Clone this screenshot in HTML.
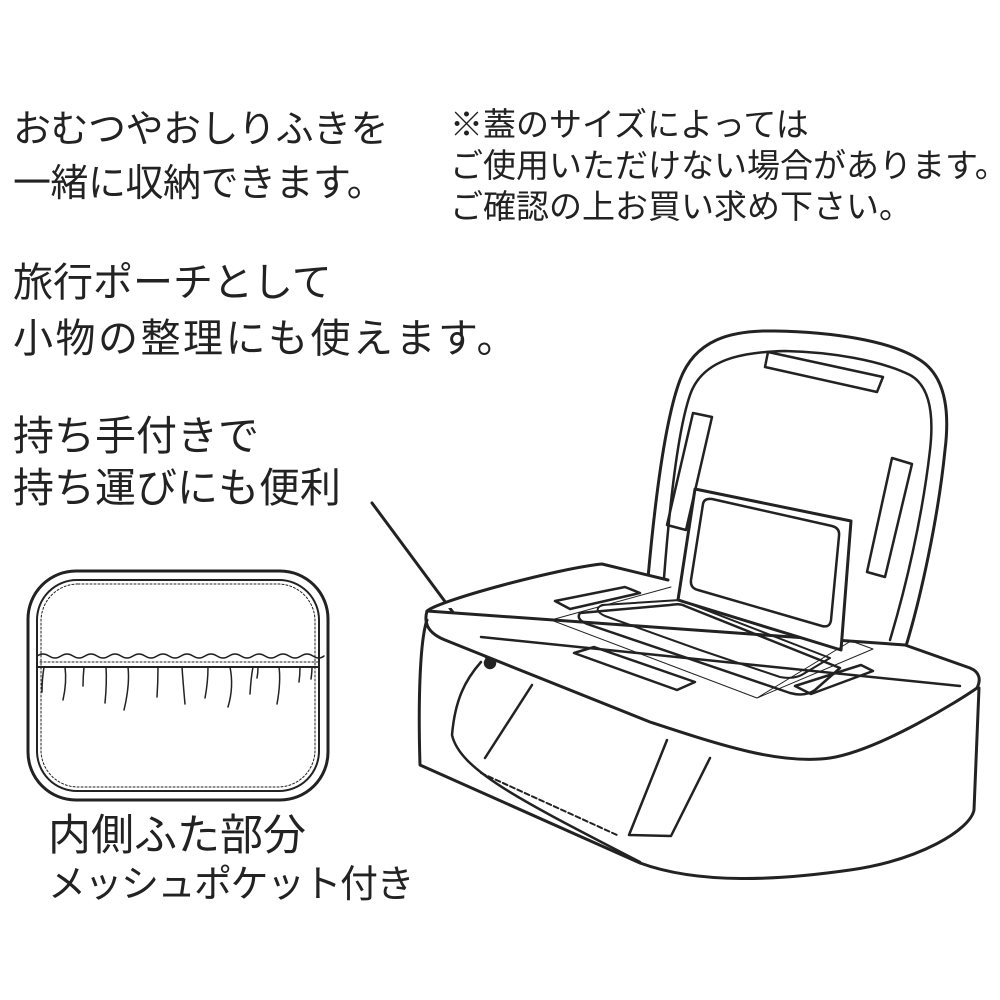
<!DOCTYPE html>
<html><head><meta charset="utf-8"><style>
html,body{margin:0;padding:0;background:#fff;width:1000px;height:1000px;overflow:hidden}
.t{position:absolute;font-family:"Liberation Sans","Noto Sans CJK JP",sans-serif;color:#222;white-space:nowrap;letter-spacing:0}
svg{position:absolute;left:0;top:0}
</style></head><body>
<div class="t" style="left:13px;top:103px;font-size:38px;line-height:54px;letter-spacing:-0.5px">おむつやおしりふきを<br>一緒に収納できます。</div>
<div class="t" style="left:450px;top:104px;font-size:33px;line-height:41px;letter-spacing:0">※蓋のサイズによっては<br>ご使用いただけない場合があります。<br>ご確認の上お買い求め下さい。</div>
<div class="t" style="left:13px;top:255px;font-size:40px;line-height:56px">旅行ポーチとして<br><span style="letter-spacing:2.5px">小物の整理にも使えます。</span></div>
<div class="t" style="left:13px;top:410px;font-size:41px;line-height:52px">持ち手付きで<br>持ち運びにも便利</div>
<div class="t" style="left:48px;top:810px;font-size:43px;line-height:52px">内側ふた部分</div>
<div class="t" style="left:48px;top:860px;font-size:38px;line-height:50px;letter-spacing:-1.5px">メッシュポケット付き</div>
<svg width="1000" height="1000" viewBox="0 0 1000 1000" fill="none" stroke="#222" stroke-width="2.5" stroke-linejoin="round" stroke-linecap="round">
<rect x="28" y="571" width="300" height="229" rx="48" stroke-width="3"/>
<rect x="37" y="580" width="282" height="211" rx="40" stroke-width="2"/>
<rect x="41" y="584" width="274" height="203" rx="37" stroke-width="1" stroke-dasharray="2 2"/>
<path d="M37 656 q6 -4 12 0 q6 4 12 0 q6 -4 12 0 q6 4 12 0 q6 -4 12 0 q6 4 12 0 q6 -4 12 0 q6 4 12 0 q6 -4 12 0 q6 4 12 0 q6 -4 12 0 q6 4 12 0 q6 -4 12 0 q6 4 12 0 q6 -4 12 0 q6 4 12 0 q6 -4 12 0 q6 4 12 0 q6 -4 12 0 q6 4 12 0 q6 -4 12 0 q6 4 12 0 q6 -4 12 0 q6 4 11 0" stroke-width="1.5"/>
<line x1="37" y1="667" x2="319" y2="667" stroke-width="2"/>
<line x1="40" y1="662" x2="318" y2="662" stroke-width="1" stroke-dasharray="2 2"/>
<g stroke-width="1.5">
<path d="M44 667 q-2 12 -2 25"/><path d="M65 667 q2 15 -2 33"/><path d="M84 667 q-1 10 -1 19"/><path d="M106 667 q1 15 -1 36"/><path d="M128 667 q2 18 -4 43"/><path d="M158 667 q0 15 -1 30"/><path d="M182 667 q1 15 3 37"/><path d="M208 667 q0 15 -3 31"/><path d="M230 667 q4 20 -2 40"/><path d="M253 667 q-2 10 -3 27"/><path d="M279 667 q2 15 -2 37"/><path d="M300 667 q0 8 -1 15"/><path d="M312 667 q0 5 -1 12"/><path d="M258 667 q0 6 -1 11"/>
</g>
<line x1="372" y1="503" x2="489" y2="661" stroke-width="3"/>
<circle cx="490" cy="663" r="5" fill="#222"/>
<path d="M648 578 C655 500 665 420 680 380 C695 340 730 330 775 331 C830 332 890 340 920 360 C945 376 950 410 945 450 C938 520 920 600 906 646" stroke-width="3"/>
<path d="M664 578 C670 500 678 430 690 395 C702 360 740 352 785 351 C830 352 880 360 910 375 C930 386 934 415 930 450 C922 520 905 590 890 640"/>
<path d="M768 352 L883 377 L877 392 L765 367 Z"/>
<path d="M693 413 L712 417 L686 530 L667 525 Z"/>
<path d="M892 458 L912 464 L885 577 L867 572 Z"/>
<path d="M427 611 C440 600 560 568 602 564 L668 580 M905 645 L970 668 C980 672 981 680 977 688 C960 700 880 750 830 758 C780 765 720 745 650 722 L445 640 C430 634 423 625 427 611 Z" fill="#fff" stroke-width="3"/>
<path d="M481 637 L960 686" stroke-width="2.5"/>
<path d="M695 489 L851 521 L841 650 L678 600 Z" fill="#fff" stroke-width="3"/>
<path d="M703 504 Q704 498 712 499 L832 526 Q840 528 839 536 L831 620 Q830 628 822 626 L698 590 Q690 588 691 580 Z" stroke-width="2.5"/>
<path d="M551 620 L671 587 M851 641 L873 649 L757 698 Z M551 620 L757 698" stroke-width="1"/>
<path d="M580 613 Q575 620 590 625 L790 693 Q805 697 815 690 L840 668 L685 606 Q680 603 670 605 Z" stroke-width="2.5"/>
<path d="M602 605 Q592 610 605 616 L700 650 L780 677 Q795 680 805 673 L830 658 L680 600 Z" stroke-width="2"/>
<path d="M555 601 L625 587 L640 593 L570 609 Z"/>
<path d="M574 653 L594 647 L695 682 L677 690 Z"/>
<path d="M795 686 L861 665 L873 671 L811 694 Z"/>
<path d="M427 620 C420 640 418 700 420 765 L640 863 C700 885 780 880 850 870 C920 860 970 830 974 810 L979 688" stroke-width="3"/>
<path d="M481 662 C465 680 455 700 452 735 C460 770 520 800 640 862" stroke-width="2.5"/>
<path d="M532 685 L485 758 M667 740 L629 835 M710 758 L671 836 M629 835 L671 836"/>
<path d="M481 773 L617 835" stroke-width="2" stroke-dasharray="5 3"/>
</svg>
</body></html>
